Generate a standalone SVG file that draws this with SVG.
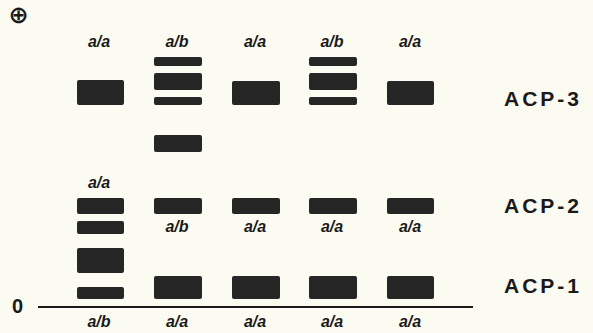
<svg xmlns="http://www.w3.org/2000/svg" width="593" height="333" viewBox="0 0 593 333">
<style>
.bg{fill:#fcfbf1}
.band{fill:#262626}
.g{font-family:"Liberation Sans",Arial,sans-serif;font-weight:bold;font-style:italic;font-size:16px;fill:#1a1a1a;text-anchor:middle}
.acp{font-family:"Liberation Sans",Arial,sans-serif;font-weight:bold;font-size:21px;fill:#1a1a1a;letter-spacing:3px}
.lbl{font-family:"Liberation Sans",Arial,sans-serif;font-weight:bold;font-size:20px;fill:#1a1a1a}
</style>
<rect class="bg" x="0" y="0" width="593" height="333"/>
<text x="18.5" y="22.5" text-anchor="middle" style="font-family:'DejaVu Sans',sans-serif;font-weight:bold;font-size:24px;fill:#1a1a1a">⊕</text>
<text class="lbl" x="12" y="313">0</text>
<g id="axis"><line x1="38" y1="307" x2="473" y2="307" stroke="#1a1a1a" stroke-width="2"/></g>
<g id="lane1">
<text class="g" x="99" y="47">a/a</text>
<rect class="band" x="77" y="80" width="47" height="25" rx="2"/>
<text class="g" x="99" y="188">a/a</text>
<rect class="band" x="77" y="198" width="47" height="16" rx="2"/>
<rect class="band" x="77" y="221" width="47" height="13" rx="2"/>
<rect class="band" x="77" y="248" width="47" height="25" rx="2"/>
<rect class="band" x="77" y="287" width="47" height="12" rx="2"/>
<text class="g" x="99" y="327">a/b</text>
</g>
<g id="lane2">
<text class="g" x="177" y="47">a/b</text>
<rect class="band" x="154" y="57" width="48" height="9" rx="2"/>
<rect class="band" x="154" y="73" width="48" height="17" rx="2"/>
<rect class="band" x="154" y="97" width="48" height="8" rx="2"/>
<rect class="band" x="154" y="135" width="48" height="17" rx="2"/>
<rect class="band" x="154" y="198" width="48" height="16" rx="2"/>
<text class="g" x="177" y="232">a/b</text>
<rect class="band" x="154" y="276" width="48" height="23" rx="2"/>
<text class="g" x="177" y="327">a/a</text>
</g>
<g id="lane3">
<text class="g" x="255" y="47">a/a</text>
<rect class="band" x="232" y="81" width="48" height="24" rx="2"/>
<rect class="band" x="232" y="198" width="48" height="16" rx="2"/>
<text class="g" x="255" y="232">a/a</text>
<rect class="band" x="232" y="276" width="48" height="23" rx="2"/>
<text class="g" x="255" y="327">a/a</text>
</g>
<g id="lane4">
<text class="g" x="332" y="47">a/b</text>
<rect class="band" x="309" y="57" width="48" height="9" rx="2"/>
<rect class="band" x="309" y="73" width="48" height="17" rx="2"/>
<rect class="band" x="309" y="97" width="48" height="8" rx="2"/>
<rect class="band" x="309" y="198" width="48" height="16" rx="2"/>
<text class="g" x="332" y="232">a/a</text>
<rect class="band" x="309" y="276" width="48" height="23" rx="2"/>
<text class="g" x="332" y="327">a/a</text>
</g>
<g id="lane5">
<text class="g" x="410" y="47">a/a</text>
<rect class="band" x="387" y="81" width="47" height="24" rx="2"/>
<rect class="band" x="387" y="198" width="47" height="16" rx="2"/>
<text class="g" x="410" y="232">a/a</text>
<rect class="band" x="387" y="276" width="47" height="23" rx="2"/>
<text class="g" x="410" y="327">a/a</text>
</g>
<g id="labels">
<text class="acp" x="504" y="106">ACP-3</text>
<text class="acp" x="504" y="213">ACP-2</text>
<text class="acp" x="504" y="293">ACP-1</text>
</g>
</svg>
